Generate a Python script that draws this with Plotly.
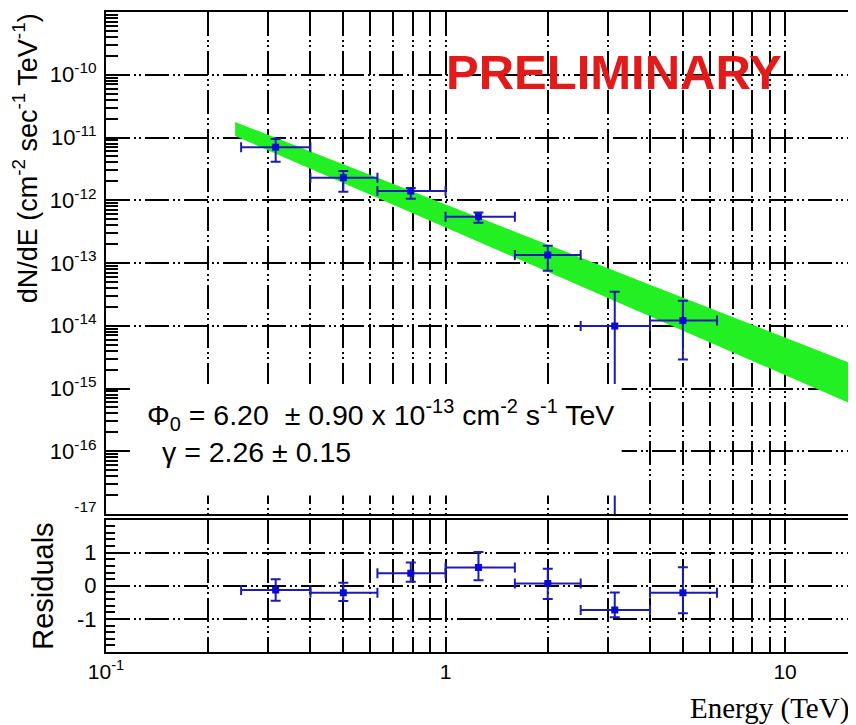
import plotly.graph_objects as go

# Spectrum points (TeV, cm^-2 s^-1 TeV^-1)
energy = [0.316, 0.50, 0.79, 1.25, 2.0, 3.15, 5.0]
e_low = [0.25, 0.40, 0.63, 1.0, 1.6, 2.5, 4.0]
e_high = [0.40, 0.63, 1.0, 1.6, 2.5, 4.0, 6.3]
flux = [7.0e-12, 2.29e-12, 1.40e-12, 5.47e-13, 1.34e-13, 9.9e-15, 1.21e-14]
flux_err_up = [2.5e-12, 0.63e-12, 0.17e-12, 0.9e-13, 0.55e-13, 2.5e-14, 1.3e-14]
flux_err_down = [2.9e-12, 0.92e-12, 0.34e-12, 1.1e-13, 0.59e-13, 9.9e-15, 0.92e-14]

# Residuals
residual = [-0.13, -0.21, 0.38, 0.55, 0.07, -0.73, -0.21]
res_err_up = [0.33, 0.30, 0.32, 0.47, 0.44, 0.53, 0.77]
res_err_down = [0.32, 0.25, 0.26, 0.38, 0.47, 0.22, 0.62]

# Fit band edges
band_energy = [0.24, 1.0, 4.0, 16.0]
band_upper = [1.77e-11, 8.5e-13, 4.5e-14, 2.4e-15]
band_lower = [1.06e-11, 3.66e-13, 1.41e-14, 5.4e-16]

# Axis ticks
x_decades = [0.1, 1, 10]
x_decade_labels = ["10<sup>-1</sup>", "1", "10"]
y_tick_vals = [1e-17, 1e-16, 1e-15, 1e-14, 1e-13, 1e-12, 1e-11, 1e-10]
y_tick_text = ["<sup>-17</sup>", "10<sup>-16</sup>", "10<sup>-15</sup>", "10<sup>-14</sup>",
               "10<sup>-13</sup>", "10<sup>-12</sup>", "10<sup>-11</sup>", "10<sup>-10</sup>"]
res_tick_vals = [-1, 0, 1]
res_tick_text = ["-1", "0", "1"]

FONT = "Liberation Sans, Arial, sans-serif"
BLUE = "#1c1cb4"
GREEN = "#22f022"
GRIDDASH = "24px,4px,2px,3px,2px,4px"

# every 1..9 x decade for vertical grid
x_grid = [d * m for d in [0.1, 1, 10] for m in range(1, 10)]
x_text = [x_decade_labels[x_decades.index(v)] if v in x_decades else "" for v in x_grid]
y_minor = [m * 10.0 ** k for k in range(-17, -9) for m in range(2, 10)]

err_x_plus = [h - e for h, e in zip(e_high, energy)]
err_x_minus = [e - l for e, l in zip(energy, e_low)]

fig = go.Figure()

fig.add_trace(go.Scatter(x=band_energy, y=band_lower, mode="lines",
                         line=dict(width=0, color=GREEN), hoverinfo="skip",
                         showlegend=False, xaxis="x", yaxis="y"))
fig.add_trace(go.Scatter(x=band_energy, y=band_upper, mode="lines",
                         line=dict(width=0, color=GREEN), fill="tonexty",
                         fillcolor=GREEN, hoverinfo="skip",
                         showlegend=False, xaxis="x", yaxis="y"))

fig.add_trace(go.Scatter(
    x=energy, y=flux, mode="markers",
    marker=dict(symbol="square", size=7, color="#0a0ad8"),
    error_x=dict(type="data", symmetric=False, array=err_x_plus, arrayminus=err_x_minus,
                 color=BLUE, thickness=2, width=5),
    error_y=dict(type="data", symmetric=False, array=flux_err_up, arrayminus=flux_err_down,
                 color=BLUE, thickness=2, width=5),
    showlegend=False, xaxis="x", yaxis="y"))

fig.add_trace(go.Scatter(
    x=energy, y=residual, mode="markers",
    marker=dict(symbol="square", size=7, color="#0a0ad8"),
    error_x=dict(type="data", symmetric=False, array=err_x_plus, arrayminus=err_x_minus,
                 color=BLUE, thickness=2, width=5),
    error_y=dict(type="data", symmetric=False, array=res_err_up, arrayminus=res_err_down,
                 color=BLUE, thickness=2, width=5),
    showlegend=False, xaxis="x2", yaxis="y2"))

axis_common = dict(showline=True, mirror=True, linecolor="black", linewidth=2,
                   showgrid=True, gridcolor="black", gridwidth=2, griddash=GRIDDASH,
                   zeroline=False)

# the page body adds an 8px offset, so the figure is 8px smaller than the window
fig.update_layout(
    width=848, height=717,
    margin=dict(l=98, r=2, t=4, b=73),
    paper_bgcolor="white", plot_bgcolor="white",
    font=dict(family=FONT, color="black"),
    xaxis=dict(type="log", range=[-1, 1.197], domain=[0, 1], anchor="y",
               tickmode="array", tickvals=x_grid, showticklabels=False, ticks="",
               **axis_common),
    yaxis=dict(type="log", range=[-17, -9], domain=[0.2156, 1], anchor="x",
               tickmode="array", tickvals=y_tick_vals, ticktext=y_tick_text,
               ticks="inside", ticklen=22, tickwidth=2, tickcolor="black",
               ticklabelstandoff=3, tickfont=dict(size=22),
               minor=dict(tickmode="array", tickvals=y_minor, ticks="inside",
                          ticklen=12, tickwidth=1.5, tickcolor="black", showgrid=False),
               **axis_common),
    xaxis2=dict(type="log", range=[-1, 1.197], domain=[0, 1], anchor="y2", matches="x",
                tickmode="array", tickvals=x_grid, ticktext=x_text, ticks="",
                tickangle=0, ticklabelstandoff=0, tickfont=dict(size=21),
                **axis_common),
    yaxis2=dict(range=[-2, 2], domain=[0, 0.207], anchor="x2",
                tickmode="array", tickvals=res_tick_vals, ticktext=res_tick_text,
                ticks="inside", ticklen=18, tickwidth=2, tickcolor="black",
                ticklabelstandoff=3, tickfont=dict(size=22),
                minor=dict(dtick=0.2, ticks="inside", ticklen=9, tickwidth=1.5,
                           tickcolor="black", showgrid=False),
                **axis_common),
)

# white pave behind the fit parameters
fig.add_shape(type="rect", xref="paper", yref="paper",
              x0=0.0334, x1=0.6912, y0=0.2445, y1=0.4188,
              fillcolor="white", line=dict(width=0), layer="above")

fig.add_annotation(text="\u03a6<sub>0</sub> = 6.20 \u00a0\u00b1 0.90 x 10<sup>-13</sup> cm<sup>-2</sup> s<sup>-1</sup> TeV",
                   xref="paper", yref="paper", x=0.0521, y=0.370,
                   xanchor="left", yanchor="middle", showarrow=False,
                   font=dict(size=28.5, family=FONT))
fig.add_annotation(text="\u03b3 = 2.26 \u00b1 0.15",
                   xref="paper", yref="paper", x=0.0722, y=0.3125,
                   xanchor="left", yanchor="middle", showarrow=False,
                   font=dict(size=28.5, family=FONT))
fig.add_annotation(text="<b>PRELIMINARY</b>", xref="paper", yref="paper",
                   x=0.6805, y=0.907, xanchor="center", yanchor="middle",
                   showarrow=False, font=dict(size=49, family=FONT, color="#e31a1a"))
fig.add_annotation(text="dN/dE (cm<sup>-2</sup> sec<sup>-1</sup> TeV<sup>-1</sup>)",
                   xref="paper", yref="paper", x=-0.108, y=0.772, textangle=-90,
                   xanchor="center", yanchor="middle", showarrow=False,
                   font=dict(size=27, family=FONT))
fig.add_annotation(text="Residuals", xref="paper", yref="paper",
                   x=-0.0849, y=0.103, textangle=-90,
                   xanchor="center", yanchor="middle", showarrow=False,
                   font=dict(size=29, family=FONT))
fig.add_annotation(text="Energy (TeV)", xref="paper", yref="paper",
                   x=0.9987, y=-0.089, xanchor="right", yanchor="middle",
                   showarrow=False,
                   font=dict(size=29, family="Liberation Serif, Times New Roman, serif"))

fig.write_html("out.html")
